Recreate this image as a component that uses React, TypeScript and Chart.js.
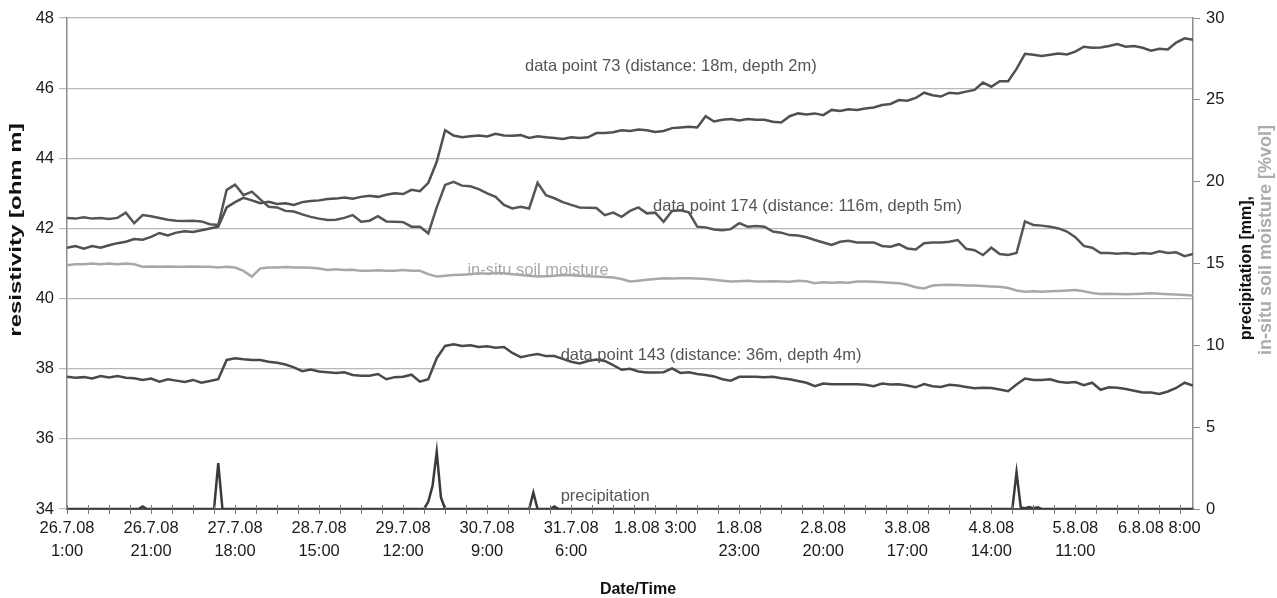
import React, { useEffect, useRef } from 'react';
import { Chart, registerables } from 'chart.js';

Chart.register(...registerables);

const FONT = '"Liberation Sans", Arial, Helvetica, sans-serif';

// x positions are sample indices (hourly categories), series sampled every 2nd category
const SAMPLE_STEP = 2;
const X_MAX = 268;

// tick labels, one every 20 categories
const xLabels: (string | string[])[] = [
  ['26.7.08', '1:00'], ['26.7.08', '21:00'], ['27.7.08', '18:00'], ['28.7.08', '15:00'],
  ['29.7.08', '12:00'], ['30.7.08', '9:00'], ['31.7.08', '6:00'], '1.8.08 3:00',
  ['1.8.08', '23:00'], ['2.8.08', '20:00'], ['3.8.08', '17:00'], ['4.8.08', '14:00'],
  ['5.8.08', '11:00'], '6.8.08 8:00',
];

// resistivity [ohm m], data point 73
const dp73 = [
  41.45, 41.5, 41.42, 41.5, 41.45, 41.52, 41.58, 41.62, 41.7, 41.68,
  41.76, 41.87, 41.8, 41.88, 41.92, 41.9, 41.95, 42.0, 42.05, 42.6,
  42.75, 42.87, 42.8, 42.72, 42.76, 42.7, 42.72, 42.67, 42.75, 42.78,
  42.8, 42.84, 42.85, 42.88, 42.85, 42.9, 42.93, 42.9, 42.96, 43.0,
  42.98, 43.1, 43.06, 43.3, 43.9, 44.8, 44.65, 44.6, 44.63, 44.65,
  44.62, 44.7, 44.65, 44.64, 44.66, 44.58, 44.63, 44.6, 44.58, 44.55,
  44.6, 44.58, 44.6, 44.72, 44.72, 44.74, 44.8, 44.78, 44.82, 44.8,
  44.75, 44.78, 44.86, 44.88, 44.9, 44.88, 45.2, 45.05, 45.1, 45.12,
  45.08, 45.12, 45.1, 45.1, 45.04, 45.02, 45.2, 45.28, 45.25, 45.28,
  45.23, 45.38, 45.35, 45.4, 45.38, 45.42, 45.45, 45.52, 45.55, 45.66,
  45.64, 45.72, 45.87, 45.8, 45.76, 45.87, 45.85, 45.9, 45.95, 46.16,
  46.04, 46.2, 46.2, 46.55, 46.98, 46.95, 46.92, 46.95, 46.99, 46.96,
  47.04, 47.18, 47.15, 47.16, 47.2, 47.26, 47.18, 47.2, 47.15, 47.07,
  47.12, 47.1, 47.3, 47.42, 47.38,
];

// resistivity [ohm m], data point 174
const dp174 = [
  42.3, 42.28, 42.32, 42.28, 42.3, 42.27, 42.3, 42.45, 42.15, 42.38,
  42.35, 42.3, 42.25, 42.22, 42.21, 42.22, 42.2, 42.12, 42.1, 43.1,
  43.25, 42.95, 43.05, 42.83, 42.62, 42.6, 42.5, 42.48, 42.4, 42.33,
  42.28, 42.24, 42.25, 42.3, 42.38, 42.19, 42.22, 42.35, 42.2, 42.19,
  42.18, 42.05, 42.05, 41.86, 42.6, 43.24, 43.33, 43.22, 43.2, 43.12,
  43.0, 42.9, 42.67, 42.57, 42.62, 42.57, 43.3, 42.95, 42.86, 42.75,
  42.67, 42.6, 42.59, 42.58, 42.38, 42.45, 42.33, 42.5, 42.6, 42.43,
  42.45, 42.19, 42.5, 42.52, 42.46, 42.05, 42.03, 41.97, 41.95, 41.98,
  42.15, 42.05, 42.07, 42.05, 41.91, 41.88, 41.81, 41.8, 41.75, 41.67,
  41.6, 41.53, 41.62, 41.65, 41.6, 41.6, 41.6, 41.5, 41.48, 41.55,
  41.43, 41.4, 41.58, 41.6, 41.6, 41.62, 41.67, 41.42, 41.38, 41.24,
  41.45, 41.27, 41.24, 41.3, 42.2, 42.1, 42.08, 42.05, 42.0, 41.91,
  41.75, 41.5, 41.45, 41.3, 41.3, 41.28, 41.3, 41.27, 41.3, 41.28,
  41.35, 41.3, 41.32, 41.21, 41.27,
];

// resistivity [ohm m], data point 143
const dp143 = [
  37.77, 37.74, 37.76, 37.72, 37.79, 37.75, 37.79, 37.74, 37.73, 37.68,
  37.72, 37.63, 37.7, 37.66, 37.62, 37.68, 37.6, 37.65, 37.7, 38.25,
  38.3, 38.27, 38.25, 38.25, 38.2, 38.17, 38.12, 38.04, 37.93, 37.98,
  37.92, 37.9, 37.88, 37.9, 37.82, 37.8, 37.8, 37.85, 37.7, 37.76,
  37.77, 37.83, 37.63, 37.7, 38.3, 38.65, 38.7, 38.65, 38.67, 38.62,
  38.64, 38.6, 38.62, 38.45, 38.33, 38.38, 38.42, 38.36, 38.36, 38.28,
  38.2, 38.15, 38.22, 38.26, 38.22, 38.1, 37.97, 38.0, 37.92, 37.89,
  37.89, 37.9, 38.01, 37.88, 37.9, 37.85, 37.82, 37.78, 37.7, 37.66,
  37.77, 37.77, 37.77, 37.76, 37.77, 37.73, 37.7, 37.65, 37.6, 37.5,
  37.58, 37.56, 37.56, 37.56, 37.56, 37.54, 37.5, 37.58, 37.55, 37.56,
  37.52, 37.47, 37.56, 37.5, 37.48, 37.54, 37.52, 37.48, 37.44, 37.46,
  37.45, 37.41, 37.36, 37.55, 37.72, 37.68, 37.68, 37.7, 37.63, 37.6,
  37.62, 37.53, 37.6, 37.4, 37.47, 37.46, 37.42, 37.37, 37.32, 37.32,
  37.28, 37.35, 37.45, 37.6, 37.52,
];

// in-situ soil moisture [%vol] (right axis)
const soilMoisture = [
  14.9, 14.95, 14.95, 15.0, 14.95, 15.0, 14.95, 15.0, 14.95, 14.8,
  14.82, 14.8, 14.82, 14.8, 14.8, 14.82, 14.8, 14.8, 14.75, 14.8,
  14.75, 14.55, 14.2, 14.7, 14.76, 14.76, 14.78, 14.76, 14.75, 14.74,
  14.7, 14.6, 14.65, 14.6, 14.62, 14.55, 14.55, 14.58, 14.55, 14.56,
  14.6, 14.55, 14.55, 14.35, 14.2, 14.25, 14.3, 14.32, 14.35, 14.4,
  14.38, 14.42, 14.4, 14.35, 14.3, 14.25, 14.2, 14.22, 14.25, 14.3,
  14.28, 14.25, 14.22, 14.2, 14.18, 14.15, 14.05, 13.9, 13.95, 14.0,
  14.05, 14.1, 14.08, 14.1, 14.1, 14.08, 14.05, 14.0, 13.95, 13.9,
  13.92, 13.95, 13.9, 13.9, 13.92, 13.9, 13.88, 13.95, 13.92, 13.8,
  13.85, 13.83, 13.85, 13.83, 13.9, 13.9, 13.88, 13.85, 13.83, 13.8,
  13.7, 13.55, 13.48, 13.65, 13.68, 13.7, 13.68, 13.66, 13.65, 13.62,
  13.6, 13.58, 13.5, 13.35, 13.27, 13.3, 13.28, 13.3, 13.32, 13.35,
  13.38, 13.3, 13.2, 13.13, 13.15, 13.13, 13.12, 13.13, 13.15, 13.18,
  13.15, 13.12, 13.1, 13.07, 13.05,
];

// precipitation [mm] (right axis): category index and value where it changes
const precipIdx = [0, 17, 18, 19, 35, 36, 37, 85, 86, 87, 88, 89, 90, 110, 111, 112, 115, 116, 117, 225, 226, 227, 228, 229, 230, 231, 232, 268];
const precipVal = [0, 0, 0.15, 0, 0, 2.8, 0, 0, 0.45, 1.4, 3.5, 0.7, 0, 0, 1.0, 0, 0, 0.15, 0, 0, 2.25, 0.1, 0.05, 0.12, 0.05, 0.1, 0, 0];

// in-plot labels (anchored in data units)
const seriesLabels = [
  { text: 'data point 73 (distance: 18m, depth 2m)', idx: 109, value: 46.63, axis: 'y', color: '#555555' },
  { text: 'data point 174 (distance: 116m, depth 5m)', idx: 139.5, value: 42.64, axis: 'y', color: '#555555' },
  { text: 'in-situ soil moisture', idx: 95.3, value: 14.6, axis: 'y1', color: '#a8a8a8' },
  { text: 'data point 143 (distance: 36m, depth 4m)', idx: 117.5, value: 38.39, axis: 'y', color: '#555555' },
  { text: 'precipitation', idx: 117.5, value: 0.75, axis: 'y1', color: '#555555' },
];

const toPoints = (vals: number[]) => vals.map((v, i) => ({ x: i * SAMPLE_STEP, y: v }));

const minorTicks: number[] = [];
for (let v = 0; v <= X_MAX; v += 5) minorTicks.push(v);

const drawRotated = (ctx: any, text: string, x: number, y: number, font: string, color: string, stretch: number) => {
  ctx.save();
  ctx.translate(x, y);
  ctx.rotate(-Math.PI / 2);
  ctx.scale(stretch, 1);
  ctx.font = font;
  ctx.fillStyle = color;
  ctx.textAlign = 'center';
  ctx.textBaseline = 'middle';
  ctx.fillText(text, 0, 0);
  ctx.restore();
};

const textPlugin = {
  id: 'texts',
  afterDraw(chart: any) {
    const { ctx, chartArea, scales } = chart;
    ctx.save();
    // inner half of the crossing x tick marks
    ctx.strokeStyle = '#777777';
    ctx.lineWidth = 1;
    minorTicks.forEach((v) => {
      const px = Math.round(scales.x.getPixelForValue(v)) + 0.5;
      ctx.beginPath();
      ctx.moveTo(px, chartArea.bottom - 4);
      ctx.lineTo(px, chartArea.bottom);
      ctx.stroke();
    });
    // in-plot series labels
    ctx.font = `16.5px ${FONT}`;
    ctx.textAlign = 'left';
    ctx.textBaseline = 'middle';
    seriesLabels.forEach((l) => {
      ctx.fillStyle = l.color;
      ctx.fillText(l.text, scales.x.getPixelForValue(l.idx), scales[l.axis].getPixelForValue(l.value));
    });
    // axis titles
    ctx.font = `bold 16px ${FONT}`;
    ctx.fillStyle = '#111111';
    ctx.textAlign = 'center';
    ctx.textBaseline = 'middle';
    ctx.fillText('Date/Time', 638, 590);
    drawRotated(ctx, 'resistivity [ohm m]', 17, 230, `bold 16px ${FONT}`, '#111111', 1.5);
    drawRotated(ctx, 'precipitation [mm],', 1247, 268, `bold 16px ${FONT}`, '#111111', 1);
    drawRotated(ctx, 'in-situ soil moisture [%vol]', 1266, 240, `bold 18px ${FONT}`, '#ababab', 1);
    ctx.restore();
  },
};

export default function App() {
  const ref = useRef<HTMLCanvasElement>(null);
  useEffect(() => {
    document.body.style.margin = '0';
    const canvas = ref.current;
    if (!canvas) return;
    const lineBase = { pointRadius: 0, tension: 0, borderWidth: 2.5, fill: false };
    const chart = new Chart(canvas, {
      type: 'line',
      data: {
        datasets: [
          { ...lineBase, label: 'precipitation', data: precipIdx.map((x, i) => ({ x, y: precipVal[i] })), borderColor: '#3a3a3a', yAxisID: 'y1' },
          { ...lineBase, label: 'in-situ soil moisture', data: toPoints(soilMoisture), borderColor: '#a8a8a8', yAxisID: 'y1' },
          { ...lineBase, label: 'data point 143', data: toPoints(dp143), borderColor: '#4a4a4a', yAxisID: 'y' },
          { ...lineBase, label: 'data point 174', data: toPoints(dp174), borderColor: '#555555', yAxisID: 'y' },
          { ...lineBase, label: 'data point 73', data: toPoints(dp73), borderColor: '#505050', yAxisID: 'y' },
        ],
      },
      options: {
        responsive: false,
        animation: false,
        events: [],
        layout: { padding: { top: 18, left: 0, right: 0, bottom: 0 } },
        plugins: { legend: { display: false }, tooltip: { enabled: false } },
        scales: {
          x: {
            type: 'linear',
            min: 0,
            max: X_MAX,
            afterFit: (s: any) => { s.height = 89; },
            afterBuildTicks: (s: any) => { s.ticks = minorTicks.map((value) => ({ value })); },
            ticks: {
              autoSkip: false,
              maxRotation: 0,
              minRotation: 0,
              padding: 2,
              color: '#1a1a1a',
              font: { family: FONT, size: 16.5, lineHeight: 1.45 },
              callback: (v: any) => (v % 20 === 0 ? xLabels[v / 20] : ''),
            },
            grid: { drawOnChartArea: false, tickLength: 5, color: '#777777', lineWidth: 1 },
            border: { color: '#555555', width: 2 },
          },
          y: {
            position: 'left',
            min: 34,
            max: 48,
            afterFit: (s: any) => { s.width = 67; },
            ticks: { stepSize: 2, padding: 5, color: '#1a1a1a', font: { family: FONT, size: 16.5 } },
            grid: { color: '#b8b8b8', lineWidth: 1.2, tickLength: 8 },
            border: { color: '#8c8c8c', width: 1.5 },
          },
          y1: {
            position: 'right',
            min: 0,
            max: 30,
            afterFit: (s: any) => { s.width = 84; },
            ticks: { stepSize: 5, padding: 6, color: '#1a1a1a', font: { family: FONT, size: 16.5 } },
            grid: { drawOnChartArea: false, tickLength: 7, color: '#8c8c8c' },
            border: { color: '#8c8c8c', width: 1.5 },
          },
        },
      },
      plugins: [textPlugin],
    } as any);
    return () => chart.destroy();
  }, []);
  return (
    <div style={{ width: 1277, height: 598 }}>
      <canvas ref={ref} width={1277} height={598} style={{ display: 'block', width: 1277, height: 598 }} />
    </div>
  );
}
